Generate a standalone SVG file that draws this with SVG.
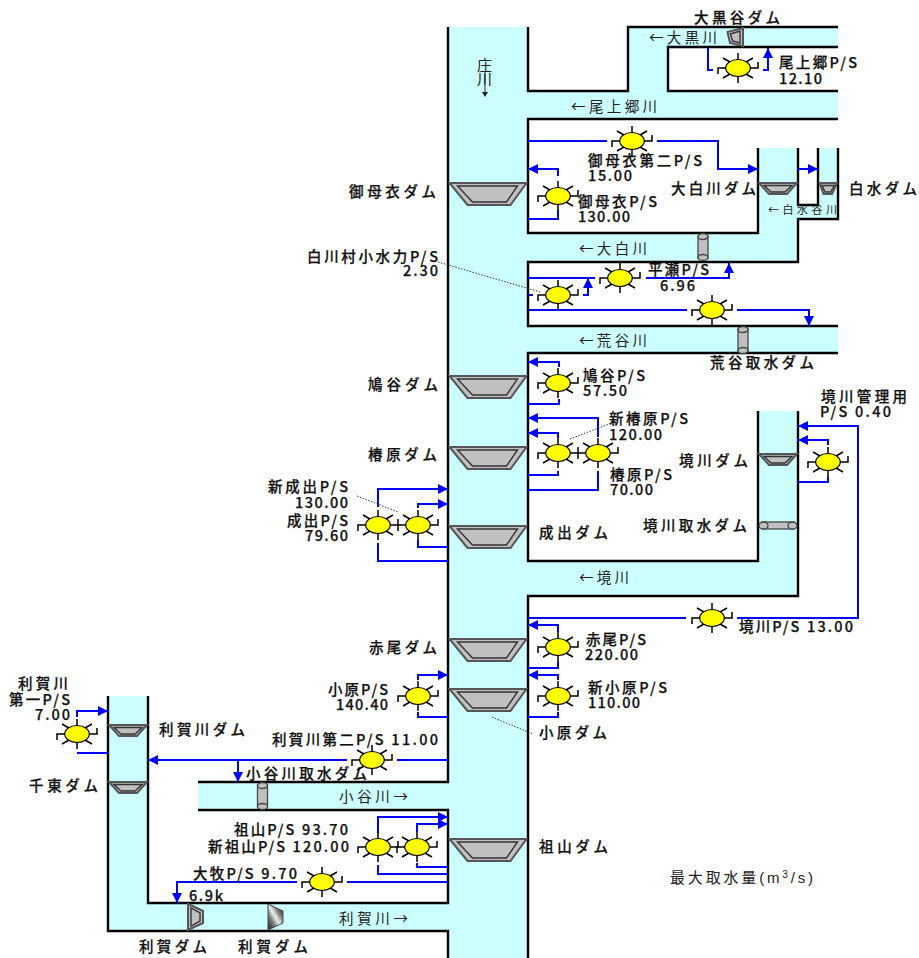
<svg xmlns="http://www.w3.org/2000/svg" width="919" height="958" viewBox="0 0 919 958">
<style>
text{font-family:"Noto Sans CJK JP","Liberation Sans",sans-serif;font-size:14.5px;font-weight:500;fill:#111;stroke:#111;stroke-width:.25}
.r{font-weight:400;stroke:none;fill:#222}
.wat{fill:#CCFFFF}
.bank{fill:none;stroke:#000;stroke-width:2.4}
.b{fill:none;stroke:#0000FF;stroke-width:2}
.a{marker-end:url(#ah)}
.lead{fill:none;stroke:#333;stroke-width:1;stroke-dasharray:1.5 1.5}
.d1{fill:#C0C0C0;stroke:#555;stroke-width:2}
.d2{fill:#C0C0C0;stroke:#333;stroke-width:1.4}
.t{fill:#C0C0C0;stroke:#444;stroke-width:1.3}
</style>
<defs>
<marker id="ah" markerUnits="userSpaceOnUse" markerWidth="11" markerHeight="10" refX="10" refY="5" orient="auto"><path d="M0,0L10,5L0,10z" fill="#0000FF"/></marker>
<linearGradient id="stripe" x1="0" y1="1" x2="1" y2="0"><stop offset="0" stop-color="#222"/><stop offset=".3" stop-color="#777"/><stop offset=".5" stop-color="#eee"/><stop offset=".7" stop-color="#777"/><stop offset="1" stop-color="#222"/></linearGradient>
<g id="sun">
<path d="M0,-15V-8M0,15V8M-15,-10L-8,-6M15,-10L8,-6M-15,10L-8,6M15,10L8,6M-12,0H-20V6M12,0H20V-6" fill="none" stroke="#000" stroke-width="1.5"/>
<ellipse rx="12.3" ry="8.5" fill="#FFFF00" stroke="#000" stroke-width="1.2"/>
</g>
<g id="dam"><polygon class="d1" points="1,0 78,0 62,22 19,22"/><polygon class="d2" points="9,3 69,3 58,19 24,19"/></g>
<g id="sdam"><polygon class="d1" points="0,0 38,0 28,11 10,11"/><polygon class="d2" points="5,2.5 33,2.5 26,9 12,9"/></g>
<g id="vt"><rect class="t" x="0" y="3" width="10" height="22"/><ellipse class="t" cx="5" cy="3.5" rx="5" ry="3"/><ellipse class="t" cx="5" cy="24.5" rx="5" ry="3"/></g>
</defs>
<rect width="919" height="958" fill="#fff"/>
<g id="rivers">
<path class="wat" d="M448,27h80v931h-80zM528,91h310v28h-310zM628,27h40v64h-40zM668,27h170v20h-170zM758,148h40v114h-40zM528,233h270v29h-270zM798,205h40v14h-40zM818,148h20v71h-20zM528,326h310v27h-310zM758,411h40v185h-40zM528,561h270v35h-270zM198,782h250v28h-250zM108,696h40v235h-40zM148,903h300v28h-300z"/>
<path class="bank" d="M448,27V782H198M198,810H448V903H148V696M108,696V931H448V958M528,27V91H628V27H838M838,47H668V91H838M838,119H528V233H758V148M798,148V205H818V148M838,148V219H798V262H528V326H838M838,353H528V561H758V411M798,411V596H528V958"/>
</g>
<g id="connectors">
<path class="b" d="M708,48V70H713M528,141H607M528,219H558V210"/>
<path class="b a" d="M763,70H768V48"/>
<path class="b a" d="M657,141H718V169H758"/>
<path class="b a" d="M798,169H818"/>
<path class="b a" d="M558,176V169H528"/>
<path class="b" d="M528,278H595M529,295H533M529,310H687"/>
<path class="b a" d="M646,278H729V263"/>
<path class="b a" d="M583,295H588V278"/>
<path class="b a" d="M737,310H809V326"/>
<path class="b a" d="M559,367V362H528"/>
<path class="b" d="M559,399V404H528"/>
<path class="b a" d="M598,437V418H528"/>
<path class="b a" d="M558,438V433H528"/>
<path class="b" d="M558,471V475H528M598,471V490H528"/>
<path class="b" d="M686,618H528"/>
<path class="b a" d="M737,618H858V426H798"/>
<path class="b a" d="M828,445V440H798"/>
<path class="b" d="M828,477V482H798"/>
<path class="b a" d="M378,507V489H448"/>
<path class="b a" d="M418,508V504H448"/>
<path class="b" d="M378,543V561H448M418,540V547H448"/>
<path class="b a" d="M558,632V625H528"/>
<path class="b" d="M558,662V668H528"/>
<path class="b a" d="M558,680V675H528"/>
<path class="b" d="M558,712V717H528"/>
<path class="b a" d="M418,680V675H448"/>
<path class="b" d="M418,712V717H448"/>
<path class="b" d="M448,760H397"/>
<path class="b a" d="M347,760H148"/>
<path class="b a" d="M238,760V782"/>
<path class="b a" d="M378,833V817H448"/>
<path class="b a" d="M417,832V824H448"/>
<path class="b" d="M378,865V874H448M417,863V867H448M347,882H448"/>
<path class="b a" d="M297,882H177V903"/>
<path class="b a" d="M77,717V711H108"/>
<path class="b" d="M77,753H108"/>
<path class="lead" d="M438,262L540,292M357,496L398,512M570,439L609,424M492,717L533,734"/>
<path d="M485,72V95" stroke="#222" fill="none"/><path d="M482,92L485,97L488,92" fill="#222"/>
</g>
<g id="dams">
<g id="dam-miboro"><use href="#dam" x="448.5" y="183"/><text x="349" y="197" textLength="87">御母衣ダム</text></g>
<g id="dam-hatogaya"><use href="#dam" x="448.5" y="376"/><text x="368" y="390" textLength="70">鳩谷ダム</text></g>
<g id="dam-tsubakihara"><use href="#dam" x="448.5" y="447"/><text x="368" y="460" textLength="69">椿原ダム</text></g>
<g id="dam-naride"><use href="#dam" x="448.5" y="526"/><text x="539" y="538" textLength="69">成出ダム</text></g>
<g id="dam-akao"><use href="#dam" x="448.5" y="639"/><text x="369" y="653" textLength="68">赤尾ダム</text></g>
<g id="dam-ohara"><use href="#dam" x="448.5" y="689"/><text x="539" y="738" textLength="68">小原ダム</text></g>
<g id="dam-soyama"><use href="#dam" x="448.5" y="839"/><text x="539" y="852" textLength="69">祖山ダム</text></g>
<g id="dam-oshirakawa"><use href="#sdam" x="759" y="183"/><text x="671" y="194" textLength="85">大白川ダム</text></g>
<g id="dam-shiramizu"><polygon class="d1" points="819.5,183 837,183 832,194 823.5,194"/><polygon class="d2" points="822,185.5 834.5,185.5 830.5,192 825,192"/><text x="849" y="194" textLength="68">白水ダム</text></g>
<g id="dam-sakai"><use href="#sdam" x="759" y="454"/><text x="679" y="466" textLength="69">境川ダム</text></g>
<g id="dam-togagawa"><use href="#sdam" x="109" y="725"/><text x="159" y="735" textLength="86">利賀川ダム</text></g>
<g id="dam-sento"><use href="#sdam" x="109" y="782"/><text x="29" y="791" textLength="69">千東ダム</text></g>
<g id="dam-okuroya"><polygon class="d1" points="743,28 743,46 730,43 727.5,32"/><polygon class="d2" points="740,31 740,43 732.5,41 730.5,34"/><text x="694" y="23" textLength="86">大黒谷ダム</text></g>
<g id="dam-toga"><polygon class="d1" points="188,904 203,911 203,923 188,930"/><polygon class="d2" points="191,908 200,913 200,921 191,926"/><text x="139" y="952" textLength="68">利賀ダム</text></g>
<g id="dam-toga2"><polygon points="268,904 283,911 283,923 268,930" fill="url(#stripe)" stroke="#444" stroke-width="1"/><text x="238" y="952" textLength="70">利賀ダム</text></g>
<g id="dam-shirakawa-t"><use href="#vt" x="698" y="233"/></g>
<g id="dam-aratani"><use href="#vt" x="738" y="326"/><text x="710" y="368" textLength="104">荒谷取水ダム</text></g>
<g id="dam-odani"><use href="#vt" x="257.5" y="782"/><text x="246" y="779" textLength="121">小谷川取水ダム</text></g>
<g id="dam-sakai-intake"><rect class="t" x="762" y="522" width="32" height="7"/><ellipse class="t" cx="763.5" cy="525.5" rx="4.5" ry="3.5"/><ellipse class="t" cx="792.5" cy="525.5" rx="4.5" ry="3.5"/><text x="643" y="531" textLength="104">境川取水ダム</text></g>
</g>
<g id="plants">
<g id="ps-okamigo"><use href="#sun" x="738" y="68"/><text x="779" y="68" textLength="78">尾上郷P/S</text><text x="779" y="84" textLength="43">12.10</text></g>
<g id="ps-miboro2"><use href="#sun" x="632" y="141"/><text x="588" y="166" textLength="114">御母衣第二P/S</text><text x="588" y="181" textLength="44">15.00</text></g>
<g id="ps-miboro"><use href="#sun" x="558" y="196"/><text x="578" y="207" textLength="79">御母衣P/S</text><text x="578" y="222" textLength="52">130.00</text></g>
<g id="ps-shirakawa"><use href="#sun" x="558" y="295"/><text x="307" y="262" textLength="131">白川村小水力P/S</text><text x="403" y="276" textLength="35">2.30</text></g>
<g id="ps-hirase"><use href="#sun" x="620" y="278"/><text x="648" y="275" textLength="61">平瀬P/S</text><text x="660" y="291" textLength="35">6.96</text></g>
<g id="ps-unnamed"><use href="#sun" x="712" y="310"/></g>
<g id="ps-hatogaya"><use href="#sun" x="558" y="383"/><text x="583" y="381" textLength="62">鳩谷P/S</text><text x="583" y="396" textLength="44">57.50</text></g>
<g id="ps-tsubakihara"><use href="#sun" x="558" y="453"/><text x="610" y="480" textLength="62">椿原P/S</text><text x="610" y="495" textLength="43">70.00</text></g>
<g id="ps-shintsubakihara"><use href="#sun" x="598" y="453"/><text x="609" y="424" textLength="79">新椿原P/S</text><text x="609" y="440" textLength="53">120.00</text></g>
<g id="ps-sakaikanri"><use href="#sun" x="828" y="462"/><text x="821" y="402" textLength="86">境川管理用</text><text x="820" y="417" textLength="71" xml:space="preserve">P/S 0.40</text></g>
<g id="ps-sakai"><use href="#sun" x="712" y="618"/><text x="739" y="632" textLength="114" xml:space="preserve">境川P/S 13.00</text></g>
<g id="ps-naride"><use href="#sun" x="378" y="525"/><text x="287" y="526" textLength="61">成出P/S</text><text x="305" y="541" textLength="43">79.60</text></g>
<g id="ps-shinnaride"><use href="#sun" x="418" y="525"/><text x="268" y="492" textLength="80">新成出P/S</text><text x="295" y="508" textLength="53">130.00</text></g>
<g id="ps-akao"><use href="#sun" x="558" y="647"/><text x="586" y="645" textLength="60">赤尾P/S</text><text x="585" y="660" textLength="53">220.00</text></g>
<g id="ps-shinohara"><use href="#sun" x="558" y="696"/><text x="588" y="693" textLength="79">新小原P/S</text><text x="588" y="708" textLength="52">110.00</text></g>
<g id="ps-ohara"><use href="#sun" x="418" y="696"/><text x="328" y="695" textLength="60">小原P/S</text><text x="336" y="710" textLength="52">140.40</text></g>
<g id="ps-toga2"><use href="#sun" x="372" y="760"/><text x="272" y="745" textLength="166" xml:space="preserve">利賀川第二P/S 11.00</text></g>
<g id="ps-toga1"><use href="#sun" x="77" y="734"/><text x="18" y="689" textLength="50">利賀川</text><text x="9" y="705" textLength="61">第一P/S</text><text x="35" y="720" textLength="35">7.00</text></g>
<g id="ps-soyama"><use href="#sun" x="378" y="847"/><text x="234" y="835" textLength="114" xml:space="preserve">祖山P/S 93.70</text></g>
<g id="ps-shinsoyama"><use href="#sun" x="417" y="847"/><text x="208" y="852" textLength="141" xml:space="preserve">新祖山P/S 120.00</text></g>
<g id="ps-omaki"><use href="#sun" x="322" y="882"/><text x="193" y="879" textLength="104" xml:space="preserve">大牧P/S 9.70</text><text x="189" y="901" textLength="34">6.9k</text></g>
</g>
<g id="labels">
<text class="r" x="649" y="43" textLength="68">←大黒川</text>
<text class="r" x="571" y="112" textLength="86">←尾上郷川</text>
<text class="r" x="768" y="214" textLength="69" style="font-size:11px">←白水谷川</text>
<text class="r" x="579" y="254" textLength="68">←大白川</text>
<text class="r" x="579" y="346" textLength="68">←荒谷川</text>
<text class="r" x="579" y="583" textLength="50">←境川</text>
<text class="r" x="339" y="802" textLength="69">小谷川→</text>
<text class="r" x="339" y="924" textLength="69">利賀川→</text>
<text class="r" x="477" y="71" style="font-size:15px">庄</text>
<text class="r" x="477" y="85" style="font-size:15px">川</text>
<text class="r" x="670" y="883" textLength="143" style="font-size:15px;font-family:'Liberation Sans','Noto Sans CJK JP',sans-serif">最大取水量(m<tspan dy="-5" font-size="10">3</tspan><tspan dy="5">/s)</tspan></text>
</g>
</svg>
